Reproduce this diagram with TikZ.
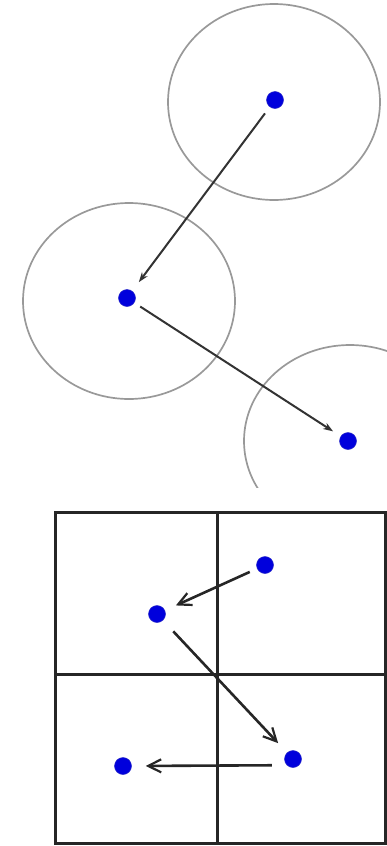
\documentclass[tikz,border=0pt]{standalone}
\usetikzlibrary{arrows.meta}
\begin{document}
\begin{tikzpicture}[x=1pt,y=-1pt,
  dot/.style={circle,fill={rgb,255:red,0;green,0;blue,220},draw={rgb,255:red,40;green,40;blue,200},line width=0.5pt,inner sep=0pt,minimum size=17pt},
  rangecirc/.style={draw=black!40,line width=1.7pt},
  toparrow/.style={draw=black!80,line width=2pt,-{Stealth[length=10pt,width=7pt]}},
  gridline/.style={draw=black!85,line width=3pt},
  botarrow/.style={draw=black!85,line width=2.6pt,-{Straight Barb[length=13pt,width=13pt,line width=2.2pt]}}]
\useasboundingbox (0,0) rectangle (387,846);
% range circles
\draw[rangecirc] (274,102) ellipse [x radius=106, y radius=98];
\draw[rangecirc] (129,301) ellipse [x radius=106, y radius=98];
\begin{scope}
\clip (0,0) rectangle (387,487);
\draw[rangecirc] (350,441) ellipse [x radius=106, y radius=96];
\end{scope}
% top dots
\node[dot] (a) at (275,100) {};
\node[dot] (b) at (127,298) {};
\node[dot] (c) at (348,441) {};
\draw[toparrow,shorten <=8pt,shorten >=11pt] (a) -- (b);
\draw[toparrow,shorten <=7pt,shorten >=9pt] (b) -- (c);
% grid
\draw[gridline] (55,512) rectangle (385,843);
\draw[gridline] (217,512) -- (217,843);
\draw[gridline] (55,674) -- (385,674);
% bottom dots
\node[dot] (p) at (265,565) {};
\node[dot] (q) at (157,614) {};
\node[dot] (r) at (293,759) {};
\node[dot] (s) at (123,766) {};
\draw[botarrow,shorten <=8pt,shorten >=12pt] (p) -- (q);
\draw[botarrow,shorten <=15pt,shorten >=13pt] (q) -- (r);
\draw[botarrow,shorten <=15pt,shorten >=14pt] (r.south west) -- (s.east);
\end{tikzpicture}
\end{document}
